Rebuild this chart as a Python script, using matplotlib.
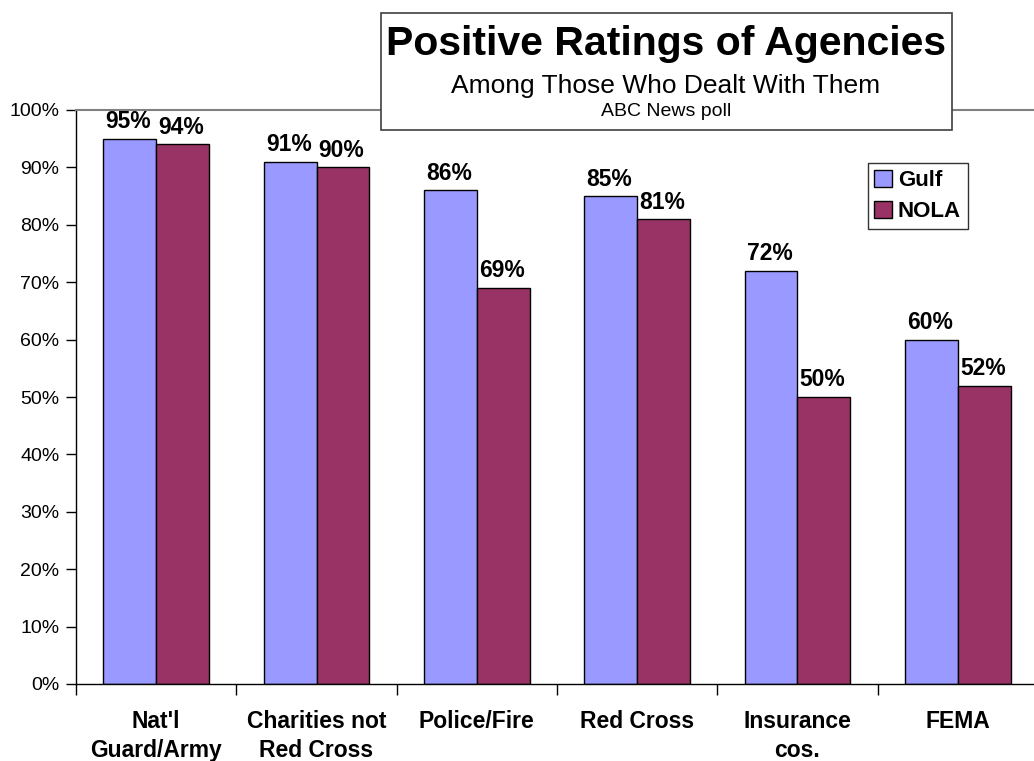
import numpy as np
import matplotlib
matplotlib.use("Agg")
import matplotlib.pyplot as plt
from matplotlib.patches import Rectangle
from matplotlib.ticker import PercentFormatter

plt.rcParams['font.family'] = ['Liberation Sans', 'DejaVu Sans']

# data
agencies = ["Nat'l\nGuard/Army", "Charities not\nRed Cross", "Police/Fire",
            "Red Cross", "Insurance\ncos.", "FEMA"]
gulf = [95, 91, 86, 85, 72, 60]
nola = [94, 90, 69, 81, 50, 52]

fig = plt.figure(figsize=(10.34, 7.61), dpi=100)
ax = fig.add_axes([76/1034, 77/761, 962/1034, 574/761])

x = np.arange(len(agencies))
w = 0.33
b1 = ax.bar(x - w/2, gulf, w, color="#9999FF", edgecolor="black", linewidth=1, label="Gulf")
b2 = ax.bar(x + w/2, nola, w, color="#993366", edgecolor="black", linewidth=1, label="NOLA")

# value labels
for bars, vals in ((b1, gulf), (b2, nola)):
    for r, v in zip(bars, vals):
        ax.annotate(f"{v}%", (r.get_x() + r.get_width()/2, v), xytext=(-1, 4),
                    textcoords="offset points", ha="center", va="bottom",
                    fontsize=16.5, fontweight="bold")

ax.set_xlim(-0.5, len(agencies) - 0.5)
ax.set_ylim(0, 100)
ax.set_yticks(np.arange(0, 101, 10))
ax.yaxis.set_major_formatter(PercentFormatter(decimals=0))
ax.tick_params(axis="y", labelsize=14, length=7, width=1, direction="out", pad=5)

# category boundaries as major ticks, names as minor ticks
ax.set_xticks(np.arange(-0.5, len(agencies), 1))
ax.set_xticklabels([])
ax.set_xticks(x, minor=True)
ax.set_xticklabels(agencies, minor=True, fontsize=16.5, fontweight="bold", linespacing=1.3)
ax.tick_params(axis="x", which="major", length=8, width=1, direction="out")
ax.tick_params(axis="x", which="minor", length=0, pad=19)

for s in ("top", "right"):
    ax.spines[s].set_color("#808080")
    ax.spines[s].set_linewidth(1.5)
for s in ("left", "bottom"):
    ax.spines[s].set_color("black")
    ax.spines[s].set_linewidth(1)

leg = ax.legend(loc="upper left", bbox_to_anchor=(0.823, 0.907),
                prop={"weight": "bold", "size": 16}, frameon=True, fancybox=False,
                handlelength=0.8, handleheight=0.8, handletextpad=0.25,
                borderpad=0.3, labelspacing=0.45, borderaxespad=0)
leg.get_frame().set_edgecolor("black")
leg.get_frame().set_linewidth(1)

# title box
fig.patches.append(Rectangle((381/1034, 1 - 130/761), 571/1034, 117/761,
                             transform=fig.transFigure, facecolor="white",
                             edgecolor="#404040", linewidth=1.2, zorder=5))
fig.text(666/1034, 1 - 44/761, "Positive Ratings of Agencies", ha="center", va="center",
         fontsize=29.5, fontweight="bold", zorder=6)
fig.text(666/1034, 1 - 86/761, "Among Those Who Dealt With Them", ha="center", va="center",
         fontsize=19, zorder=6)
fig.text(666/1034, 1 - 111/761, "ABC News poll", ha="center", va="center",
         fontsize=14, zorder=6)

fig.savefig("out.png", dpi=100)
